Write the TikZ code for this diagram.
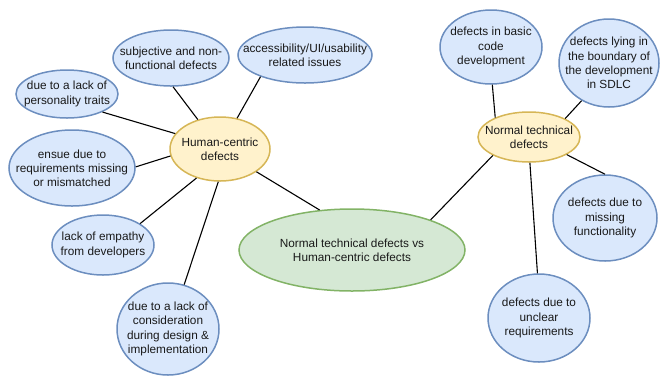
\documentclass[tikz,border=0pt]{standalone}
\usepackage{fontspec}
\setmainfont{Liberation Sans}
\usetikzlibrary{shapes.geometric}
\definecolor{bfill}{HTML}{DAE8FC}
\definecolor{bdraw}{HTML}{6C8EBF}
\definecolor{yfill}{HTML}{FFF2CC}
\definecolor{ydraw}{HTML}{D6B656}
\definecolor{gfill}{HTML}{D5E8D4}
\definecolor{gdraw}{HTML}{82B366}
\tikzset{
  txt/.style={inner sep=0pt, align=center, font=\fontsize{11.8}{14.2}\selectfont, text=black!90},
  bub/.style={ellipse, inner sep=0pt, line width=1.5pt},
  leaf/.style={bub, fill=bfill, draw=bdraw},
  hub/.style={bub, fill=yfill, draw=ydraw},
  root/.style={bub, fill=gfill, draw=gdraw},
  link/.style={line width=1.1pt, black},
}
\begin{document}
\begin{tikzpicture}[x=1pt,y=-1pt]
\useasboundingbox (0,0) rectangle (660,376);
% hubs and root
\node[hub, minimum width=100pt, minimum height=64pt, label={[txt]center:Human-centric\\defects}] (hc) at (220,149) {};
\node[hub, minimum width=102pt, minimum height=50pt, label={[txt]center:Normal technical\\defects}] (nt) at (529,137) {};
\node[root, minimum width=226pt, minimum height=82pt, label={[txt]center:Normal technical defects vs\\Human-centric defects}] (main) at (352,250) {};
% left leaves
\node[leaf, minimum width=116pt, minimum height=56pt, label={[txt]center:subjective and non-\\functional defects}] (sub) at (171,58) {};
\node[leaf, minimum width=134pt, minimum height=56pt, label={[txt]center:accessibility/UI/usability\\related issues}] (acc) at (305,55) {};
\node[leaf, minimum width=102pt, minimum height=48pt, label={[txt]center:due to a lack of\\personality traits}] (pers) at (67,94) {};
\node[leaf, minimum width=126pt, minimum height=76pt, label={[txt]center:ensue due to\\requirements missing\\or mismatched}] (ensue) at (72,168) {};
\node[leaf, minimum width=102pt, minimum height=60pt, label={[txt]center:lack of empathy\\from developers}] (emp) at (103,245) {};
\node[leaf, minimum width=102pt, minimum height=92pt, label={[txt]center:due to a lack of\\consideration\\during design \&\\implementation}] (cons) at (168,329) {};
% right leaves
\node[leaf, minimum width=102pt, minimum height=74pt, label={[txt]center:defects in basic\\code\\development}] (basic) at (491,47) {};
\node[leaf, minimum width=100pt, minimum height=88pt, label={[txt]center:defects lying in\\the boundary of\\the development\\in SDLC}] (sdlc) at (609,63) {};
\node[leaf, minimum width=104pt, minimum height=86pt, label={[txt]center:defects due to\\missing\\functionality}] (miss) at (605,218) {};
\node[leaf, minimum width=102pt, minimum height=88pt, label={[txt]center:defects due to\\unclear\\requirements}] (uncl) at (539,318) {};
% connectors
\draw[link] (sub.-86) -- (hc.127);
\draw[link] (acc.-154) -- (hc.61);
\draw[link] (pers.-27) -- (hc.161);
\draw[link] (ensue.1) -- (hc.188);
\draw[link] (hc.-129) -- (emp.30);
\draw[link] (hc.-93) -- (cons.70);
\draw[link] (hc.-32) -- (main.129);
\draw[link] (basic.-88) -- (nt.150);
\draw[link] (sdlc.-126) -- (nt.27);
\draw[link] (nt.-25) -- (miss.90);
\draw[link] (nt.-88) -- (uncl.92);
\draw[link] (nt.-153) -- (main.21);
\end{tikzpicture}
\end{document}
